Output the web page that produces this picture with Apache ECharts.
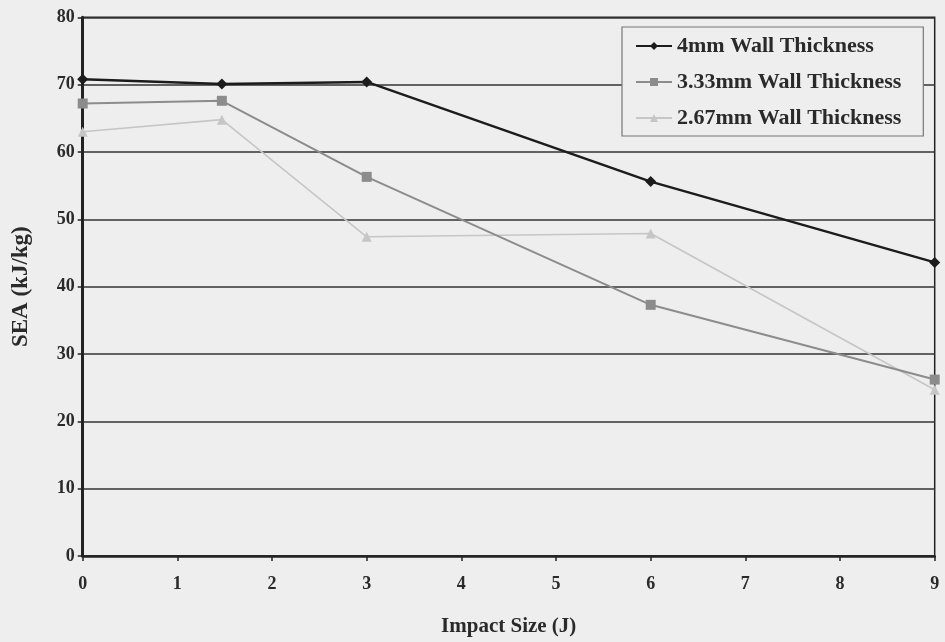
<!DOCTYPE html>
<html><head><meta charset="utf-8">
<script src="https://cdn.jsdelivr.net/npm/echarts@6/dist/echarts.min.js"></script>
<style>html,body{margin:0;padding:0;background:#eeeeee;}#c{width:945px;height:642px;}</style>
</head><body><div id="c"></div>
<script>
const impact = [0, 1.47, 3, 6, 9];
const sea4mm = [70.8, 70.1, 70.4, 55.6, 43.6];
const sea333mm = [67.2, 67.6, 56.3, 37.3, 26.2];
const sea267mm = [63.0, 64.8, 47.4, 47.9, 24.7];
const seriesNames = ['4mm Wall Thickness', '3.33mm Wall Thickness', '2.67mm Wall Thickness'];
const xTicks = [0,1,2,3,4,5,6,7,8,9];
const yTicks = [0,10,20,30,40,50,60,70,80];

const pair = (xs, ys) => xs.map((x, i) => [x, ys[i]]);
const font = 'Liberation Serif';
const chart = echarts.init(document.getElementById('c'));
chart.setOption({
  backgroundColor: '#eeeeee',
  animation: false,
  grid: { left: 82.7, right: 10.3, top: 17.3, bottom: 84.7, show: true, borderColor: '#222', borderWidth: 1.5, backgroundColor: 'transparent' },
  legend: {
    orient: 'vertical', left: 622, top: 27,
    backgroundColor: '#eeeeee', borderColor: '#777', borderWidth: 1.2,
    padding: [8, 22, 7, 13], itemGap: 14, itemWidth: 36, itemHeight: 10,
    textStyle: { fontFamily: font, fontWeight: 'bold', fontSize: 22, color: '#2a2a2a' },
    data: seriesNames
  },
  xAxis: {
    type: 'value', min: 0, max: 9, interval: 1,
    name: 'Impact Size (J)', nameLocation: 'middle', nameGap: 60,
    nameTextStyle: { fontFamily: font, fontWeight: 'bold', fontSize: 21, color: '#2a2a2a' },
    axisLine: { lineStyle: { color: '#222', width: 2.5 } },
    axisTick: { show: true, length: 5, lineStyle: { color: '#222', width: 1.5 } },
    axisLabel: { fontFamily: font, fontWeight: 'bold', fontSize: 18, color: '#2a2a2a', margin: 19,
      formatter: v => xTicks.includes(v) ? String(v) : '' },
    splitLine: { show: false }
  },
  yAxis: {
    type: 'value', min: 0, max: 80, interval: 10,
    name: 'SEA (kJ/kg)', nameLocation: 'middle', nameGap: 50,
    nameTextStyle: { fontFamily: font, fontWeight: 'bold', fontSize: 23, color: '#2a2a2a' },
    axisLine: { show: true, lineStyle: { color: '#222', width: 3 } },
    axisTick: { show: true, length: 5, lineStyle: { color: '#222', width: 1.5 } },
    axisLabel: { fontFamily: font, fontWeight: 'bold', fontSize: 18, color: '#2a2a2a', margin: 8,
      formatter: v => yTicks.includes(v) ? String(v) : '' },
    splitLine: { show: true, lineStyle: { color: '#333', width: 1.5 } }
  },
  series: [
    { name: seriesNames[0], type: 'line', data: pair(impact, sea4mm), symbol: 'diamond', symbolSize: 11,
      lineStyle: { color: '#1c1c1c', width: 2.5 }, itemStyle: { color: '#1c1c1c' }, z: 5 },
    { name: seriesNames[1], type: 'line', data: pair(impact, sea333mm), symbol: 'rect', symbolSize: 10,
      lineStyle: { color: '#8c8c8c', width: 2 }, itemStyle: { color: '#8c8c8c' }, z: 4 },
    { name: seriesNames[2], type: 'line', data: pair(impact, sea267mm), symbol: 'triangle', symbolSize: 10,
      lineStyle: { color: '#c6c6c6', width: 1.6 }, itemStyle: { color: '#c6c6c6' }, z: 3 }
  ]
});
</script></body></html>
